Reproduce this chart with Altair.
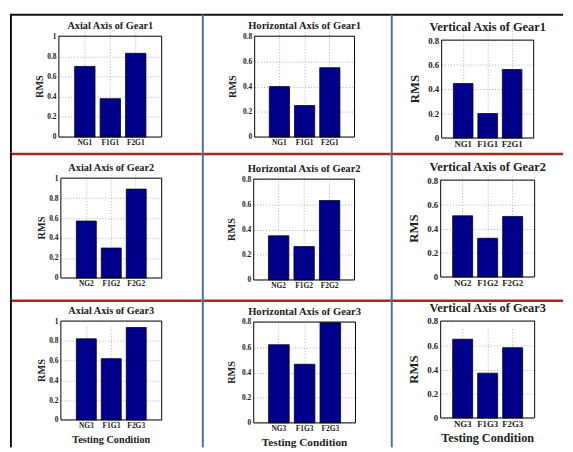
import altair as alt
import pandas as pd

# ---------------- data ----------------
axis_names = ["Axial", "Horizontal", "Vertical"]
gears = ["Gear1", "Gear2", "Gear3"]
conditions = [["NG1", "F1G1", "F2G1"],
              ["NG2", "F1G2", "F2G2"],
              ["NG3", "F1G3", "F2G3"]]
axial = [[0.70, 0.38, 0.83],
         [0.57, 0.30, 0.89],
         [0.82, 0.62, 0.935]]
horizontal = [[0.40, 0.25, 0.55],
              [0.35, 0.265, 0.63],
              [0.62, 0.465, 0.795]]
vertical = [[0.445, 0.20, 0.56],
            [0.505, 0.32, 0.50],
            [0.65, 0.37, 0.58]]
values_by_axis = [axial, horizontal, vertical]
y_max = [1.0, 0.8, 0.8]
y_ticks = [[0, 0.2, 0.4, 0.6, 0.8, 1.0],
           [0, 0.2, 0.4, 0.6, 0.8],
           [0, 0.2, 0.4, 0.6, 0.8]]
y_title = "RMS"
x_title = "Testing Condition"

# ---------------- layout / style ----------------
FONT = "Liberation Serif"
col_w = [196, 193, 176]
row_h = [143, 150, 151]
# plot rectangle inside each cell: left, right, top, bottom
plot_rect = {
    (0, 0): (50, 155, 24, 127), (0, 1): (54, 156, 24, 127), (0, 2): (52, 146, 28, 128),
    (1, 0): (52, 155, 26, 128), (1, 1): (53, 156, 27, 130), (1, 2): (51, 147, 28, 127),
    (2, 0): (52, 155, 22, 123), (2, 1): (53, 157, 23, 126), (2, 2): (51, 147, 22, 121),
}
title_size = [10.5, 10.8, 12.6]
tick_size = [7.6, 7.6, 9]
ytitle_size = [10.5, 10.5, 13]
xtitle_size = [10.5, 11.5, 12.5]
ytitle_gap = [19, 22, 27]
title_gap = [10, 10, 13]
pad_outer = [0.62, 0.58, 0.48]
bar_fill = "#00008b"
grid_color = "#9a9a9a"
sep_red = "#b02424"
sep_blue = "#4d6f98"

one = pd.DataFrame({"k": [0]})


def cell(r, c):
    L, R, T, B = plot_rect[(r, c)]
    w, h = col_w[c], row_h[r]
    df = pd.DataFrame({"cond": conditions[r], "rms": values_by_axis[c][r]})

    bars = alt.Chart(df).mark_bar(
        color=bar_fill, stroke="#000022", strokeWidth=0.8
    ).encode(
        x=alt.X("cond:N", sort=conditions[r],
                scale=alt.Scale(range=[L, R], paddingInner=0.2, paddingOuter=pad_outer[c]),
                axis=alt.Axis(title=None, offset=B - h, domain=False, ticks=False,
                              labelAngle=0, labelPadding=2, bandPosition=0.5,
                              labelFont=FONT, labelFontSize=tick_size[c], labelFontWeight="bold",
                              labelColor="#222222",
                              grid=True, gridColor=grid_color, gridDash=[1, 2], gridWidth=0.8)),
        y=alt.Y("rms:Q",
                scale=alt.Scale(domain=[0, y_max[c]], range=[B, T], nice=False, zero=True),
                axis=alt.Axis(title=None, offset=-L, domain=False, ticks=False,
                              values=y_ticks[c], format="~g", labelPadding=3,
                              labelFont=FONT, labelFontSize=tick_size[c], labelFontWeight="bold",
                              labelColor="#222222",
                              grid=True, gridColor=grid_color, gridDash=[1, 2], gridWidth=0.8)),
    )

    frame = alt.Chart(one).mark_rect(
        fillOpacity=0, stroke="black", strokeWidth=1
    ).encode(x=alt.value(L), x2=alt.value(R), y=alt.value(T), y2=alt.value(B))

    title = alt.Chart(one).mark_text(
        text=f"{axis_names[c]} Axis of {gears[r]}", font=FONT, fontSize=title_size[c],
        fontWeight="bold", color="#222222", align="center", baseline="middle"
    ).encode(x=alt.value((L + R) / 2), y=alt.value(T - title_gap[c]))

    ytitle = alt.Chart(one).mark_text(
        text=y_title, font=FONT, fontSize=ytitle_size[c], fontWeight="bold",
        color="#222222", angle=270, align="center", baseline="middle"
    ).encode(x=alt.value(L - ytitle_gap[c]), y=alt.value((T + B) / 2))

    layers = [bars, frame, title, ytitle]

    if r == 2:
        xt = alt.Chart(one).mark_text(
            text=x_title, font=FONT, fontSize=xtitle_size[c], fontWeight="bold",
            color="#222222", align="center", baseline="middle"
        ).encode(x=alt.value((L + R) / 2), y=alt.value(B + 21))
        layers.append(xt)

    # table borders
    if r == 0:
        layers.append(alt.Chart(one).mark_rule(color="#111111", strokeWidth=2).encode(
            x=alt.value(0), x2=alt.value(w), y=alt.value(2)))
    else:
        layers.append(alt.Chart(one).mark_rule(color=sep_red, strokeWidth=2.5).encode(
            x=alt.value(0), x2=alt.value(w), y=alt.value(1.25)))
    if c == 0:
        layers.append(alt.Chart(one).mark_rule(color="#111111", strokeWidth=2).encode(
            x=alt.value(1), y=alt.value(2 if r == 0 else 0), y2=alt.value(h)))
    else:
        layers.append(alt.Chart(one).mark_rule(color=sep_blue, strokeWidth=2).encode(
            x=alt.value(1), y=alt.value(2 if r == 0 else 0), y2=alt.value(h)))

    return alt.layer(*layers).properties(width=w, height=h)


cells = [cell(r, c) for r in range(3) for c in range(3)]

chart = alt.concat(*cells, columns=3, spacing=0, bounds="flush", align="each").properties(
    padding=0, background="white"
).configure_view(strokeWidth=0)

chart.save("out.html", embed_options={"renderer": "svg", "actions": False})
